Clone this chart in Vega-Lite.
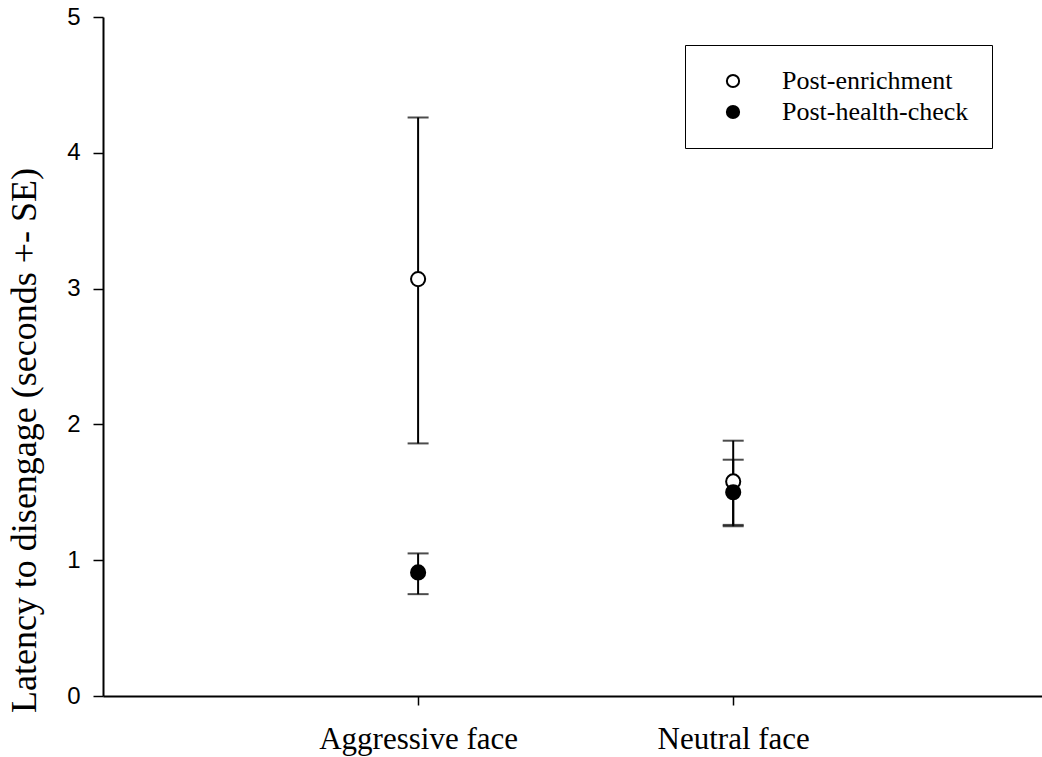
{
  "$schema": "https://vega.github.io/schema/vega-lite/v6.json",
  "width": 939,
  "height": 679,
  "autosize": "none",
  "padding": {"left": 103, "top": 17, "right": 0, "bottom": 61},
  "background": "white",
  "config": {
    "view": {"stroke": null},
    "axis": {"grid": false, "domainColor": "black", "tickColor": "black", "labelColor": "black", "titleColor": "black", "domainWidth": 2, "tickWidth": 1.5, "labelLimit": 0}
  },
  "data": {
    "values": [
      {"x": 1, "face": "Aggressive face", "group": "Post-enrichment", "mean": 3.07, "lower": 1.86, "upper": 4.26},
      {"x": 2, "face": "Neutral face", "group": "Post-enrichment", "mean": 1.58, "lower": 1.26, "upper": 1.88},
      {"x": 1, "face": "Aggressive face", "group": "Post-health-check", "mean": 0.91, "lower": 0.75, "upper": 1.05},
      {"x": 2, "face": "Neutral face", "group": "Post-health-check", "mean": 1.50, "lower": 1.25, "upper": 1.74}
    ]
  },
  "layer": [
    {
      "mark": {"type": "errorbar", "ticks": true, "size": 21, "thickness": 2, "color": "black"},
      "encoding": {
        "x": {
          "field": "x", "type": "quantitative",
          "scale": {"domain": [0, 2.98], "nice": false, "zero": false},
          "axis": {
            "title": null, "values": [1, 2],
            "labelExpr": "datum.value == 1 ? 'Aggressive face' : 'Neutral face'",
            "labelFont": "Liberation Serif", "labelFontSize": 31, "tickSize": 9, "labelPadding": 19
          }
        },
        "y": {
          "field": "lower", "type": "quantitative",
          "scale": {"domain": [0, 5], "nice": false},
          "axis": {
            "title": "Latency to disengage (seconds +- SE)", "values": [0, 1, 2, 3, 4, 5], "format": "d",
            "labelFont": "Liberation Sans", "labelFontSize": 24, "tickSize": 10, "labelPadding": 13,
            "titleFont": "Liberation Serif", "titleFontSize": 36, "titleFontWeight": "normal",
            "titleX": -79, "titleY": 423, "titleAngle": -90, "titleAlign": "center", "titleBaseline": "middle"
          }
        },
        "y2": {"field": "upper"}
      }
    },
    {
      "mark": {"type": "point", "filled": true, "size": 200, "stroke": "black", "strokeWidth": 2, "opacity": 1},
      "encoding": {
        "x": {"field": "x", "type": "quantitative"},
        "y": {"field": "mean", "type": "quantitative"},
        "fill": {
          "field": "group", "type": "nominal",
          "scale": {"domain": ["Post-enrichment", "Post-health-check"], "range": ["white", "black"]},
          "legend": {
            "title": null, "orient": "none", "legendX": 582, "legendY": 28,
            "strokeColor": "black", "fillColor": "white", "padding": 23,
            "labelFont": "Liberation Serif", "labelFontSize": 26, "labelColor": "black", "labelLimit": 0,
            "symbolType": "circle", "symbolSize": 150, "symbolStrokeColor": "black", "symbolStrokeWidth": 2,
            "symbolOffset": 12, "labelOffset": 36, "rowPadding": 5,
            "encode": {
              "legend": {"update": {"strokeWidth": {"value": 1.5}}},
              "symbols": {"update": {"stroke": {"value": "black"}, "strokeWidth": {"value": 2}}}
            }
          }
        }
      }
    }
  ]
}
